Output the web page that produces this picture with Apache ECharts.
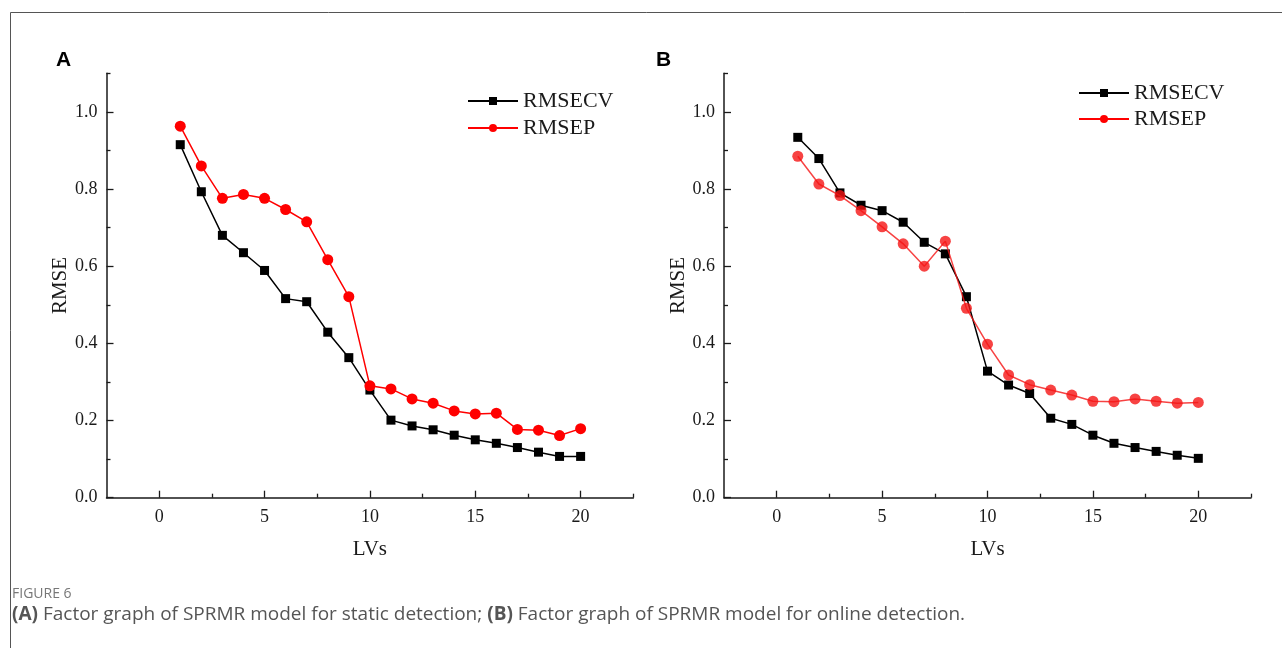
<!DOCTYPE html>
<html>
<head>
<meta charset="utf-8">
<script src="https://cdn.jsdelivr.net/npm/echarts@6/dist/echarts.min.js"></script>
<style>
html,body{margin:0;padding:0;background:#fff;}
#chart{width:1282px;height:648px;}
</style>
</head>
<body>
<div id="chart"></div>
<script>
// ---- data ----
const lvs = [1,2,3,4,5,6,7,8,9,10,11,12,13,14,15,16,17,18,19,20];
const rmsecvA = [0.915,0.793,0.680,0.635,0.589,0.516,0.508,0.429,0.363,0.279,0.201,0.186,0.176,0.162,0.150,0.141,0.130,0.118,0.107,0.107];
const rmsepA  = [0.963,0.860,0.776,0.786,0.776,0.747,0.715,0.617,0.521,0.290,0.282,0.256,0.245,0.225,0.217,0.219,0.177,0.175,0.161,0.179];
const rmsecvB = [0.934,0.879,0.790,0.758,0.744,0.714,0.662,0.632,0.521,0.328,0.292,0.270,0.206,0.190,0.162,0.141,0.130,0.120,0.110,0.102];
const rmsepB  = [0.885,0.813,0.783,0.744,0.702,0.658,0.600,0.665,0.491,0.398,0.318,0.293,0.279,0.266,0.250,0.249,0.256,0.250,0.245,0.247];
const seriesNames = ['RMSECV','RMSEP'];
const xMajor = [0,5,10,15,20];
const xMinor = [2.5,7.5,12.5,17.5,22.5];
const yMajor = [0,0.2,0.4,0.6,0.8,1.0];
const yMinor = [0.1,0.3,0.5,0.7,0.9,1.1];
const panelLetters = ['A','B'];
const xName = 'LVs';
const yName = 'RMSE';
const captionHead = 'FIGURE 6';

// ---- styles ----
const serif = '"Liberation Serif", "Times New Roman", serif';
const axisColor = '#1a1a1a';
const grids = [
  {left:106.5, top:73.3, width:526.8, height:424.4},
  {left:724, top:73.3, width:527, height:424.4}
];

function near(v, list){ return list.some(t => Math.abs(t - v) < 1e-6); }

const xAxes = [], yAxes = [];
grids.forEach((g, gi) => {
  xAxes.push({
    type:'value', gridIndex:gi, position:'bottom', min:-2.5, max:22.5, interval:2.5,
    axisLine:{show:true, onZero:false, lineStyle:{color:axisColor, width:1.5}},
    axisTick:{show:true, inside:true, length:7, lineStyle:{color:axisColor, width:1.3}, customValues:xMajor},
    axisLabel:{show:true, margin:11, color:axisColor, fontFamily:serif, fontSize:18, customValues:xMajor,
      formatter:v => near(v, xMajor) ? String(Math.round(v)) : ''},
    splitLine:{show:false},
    name:xName, nameLocation:'middle', nameGap:41,
    nameTextStyle:{fontFamily:serif, fontSize:21, color:axisColor}
  });
  xAxes.push({
    type:'value', gridIndex:gi, position:'bottom', min:-2.5, max:22.5, interval:2.5,
    axisLine:{show:false, onZero:false},
    axisTick:{show:true, inside:true, length:4, lineStyle:{color:axisColor, width:1.3}, customValues:xMinor},
    axisLabel:{show:false}, splitLine:{show:false}
  });
  yAxes.push({
    type:'value', gridIndex:gi, position:'left', min:0, max:1.1, interval:0.1,
    axisLine:{show:true, onZero:false, lineStyle:{color:axisColor, width:1.5}},
    axisTick:{show:true, inside:true, length:7, lineStyle:{color:axisColor, width:1.3}, customValues:yMajor},
    axisLabel:{show:true, margin:9, color:axisColor, fontFamily:serif, fontSize:18, customValues:yMajor,
      formatter:v => near(v, yMajor) ? v.toFixed(1) : ''},
    splitLine:{show:false},
    name:yName, nameLocation:'middle', nameGap:35, nameRotate:90,
    nameTextStyle:{fontFamily:serif, fontSize:21, color:axisColor}
  });
  yAxes.push({
    type:'value', gridIndex:gi, position:'left', min:0, max:1.1, interval:0.1,
    axisLine:{show:false, onZero:false},
    axisTick:{show:true, inside:true, length:4, lineStyle:{color:axisColor, width:1.3}, customValues:yMinor},
    axisLabel:{show:false}, splitLine:{show:false}
  });
});

function pairs(arr){ return lvs.map((x,i) => [x, arr[i]]); }

const panelData = [[rmsecvA, rmsepA],[rmsecvB, rmsepB]];
const redA = '#ff0000', redB = 'rgba(245,20,20,0.8)';
const series = [];
panelData.forEach((pd, gi) => {
  series.push({
    name:seriesNames[0], type:'line', xAxisIndex:gi*2, yAxisIndex:gi*2,
    data:pairs(pd[0]), symbol:'rect', symbolSize:9, showAllSymbol:true,
    lineStyle:{color:'#000', width:1.5}, itemStyle:{color:'#000'},
    emphasis:{disabled:true}, animation:false, z:2
  });
  series.push({
    name:seriesNames[1], type:'line', xAxisIndex:gi*2, yAxisIndex:gi*2,
    data:pairs(pd[1]), symbol:'circle', symbolSize:11, showAllSymbol:true,
    lineStyle:{color: gi===0?redA:redB, width:1.5}, itemStyle:{color: gi===0?redA:redB},
    emphasis:{disabled:true}, animation:false, z:3
  });
});

const legendText = {fontFamily:serif, fontSize:22, color:axisColor, lineHeight:22};
const option = {
  backgroundColor:'#fff',
  animation:false,
  grid: grids.map(g => Object.assign({containLabel:false}, g)),
  xAxis: xAxes,
  yAxis: yAxes,
  legend: [
    {orient:'vertical', left:467, top:90, padding:0, itemWidth:50, itemHeight:10, itemGap:5,
     data:seriesNames, textStyle:legendText, selectedMode:false},
    {orient:'vertical', left:1078, top:82, padding:0, itemWidth:50, itemHeight:10, itemGap:4,
     data:seriesNames, textStyle:legendText, selectedMode:false}
  ],
  series: series,
  graphic: [
    {type:'rect', shape:{x:10.5, y:12.5, width:1400, height:800}, style:{fill:'none', stroke:'#555', lineWidth:1}, silent:true},
    {type:'text', left:56, top:50, style:{text:panelLetters[0], font:'bold 21px "Liberation Sans", Arial, sans-serif', fill:'#000'}},
    {type:'text', left:656, top:50, style:{text:panelLetters[1], font:'bold 21px "Liberation Sans", Arial, sans-serif', fill:'#000'}},
    {type:'text', left:12, top:587, style:{text:captionHead, font:'14px "Open Sans", sans-serif', fill:'#777'}},
    {type:'text', left:12, top:605, style:{
      rich:{
        b:{fontFamily:'"Open Sans", sans-serif', fontSize:19, fontWeight:'bold', fill:'#555', color:'#555'},
        n:{fontFamily:'"Open Sans", sans-serif', fontSize:19, fill:'#555', color:'#555'}
      },
      text:'{b|(A)}{n| Factor graph of SPRMR model for static detection; }{b|(B)}{n| Factor graph of SPRMR model for online detection.}'
    }}
  ]
};

const chart = echarts.init(document.getElementById('chart'), null, {renderer:'canvas'});
chart.setOption(option);
</script>
</body>
</html>
